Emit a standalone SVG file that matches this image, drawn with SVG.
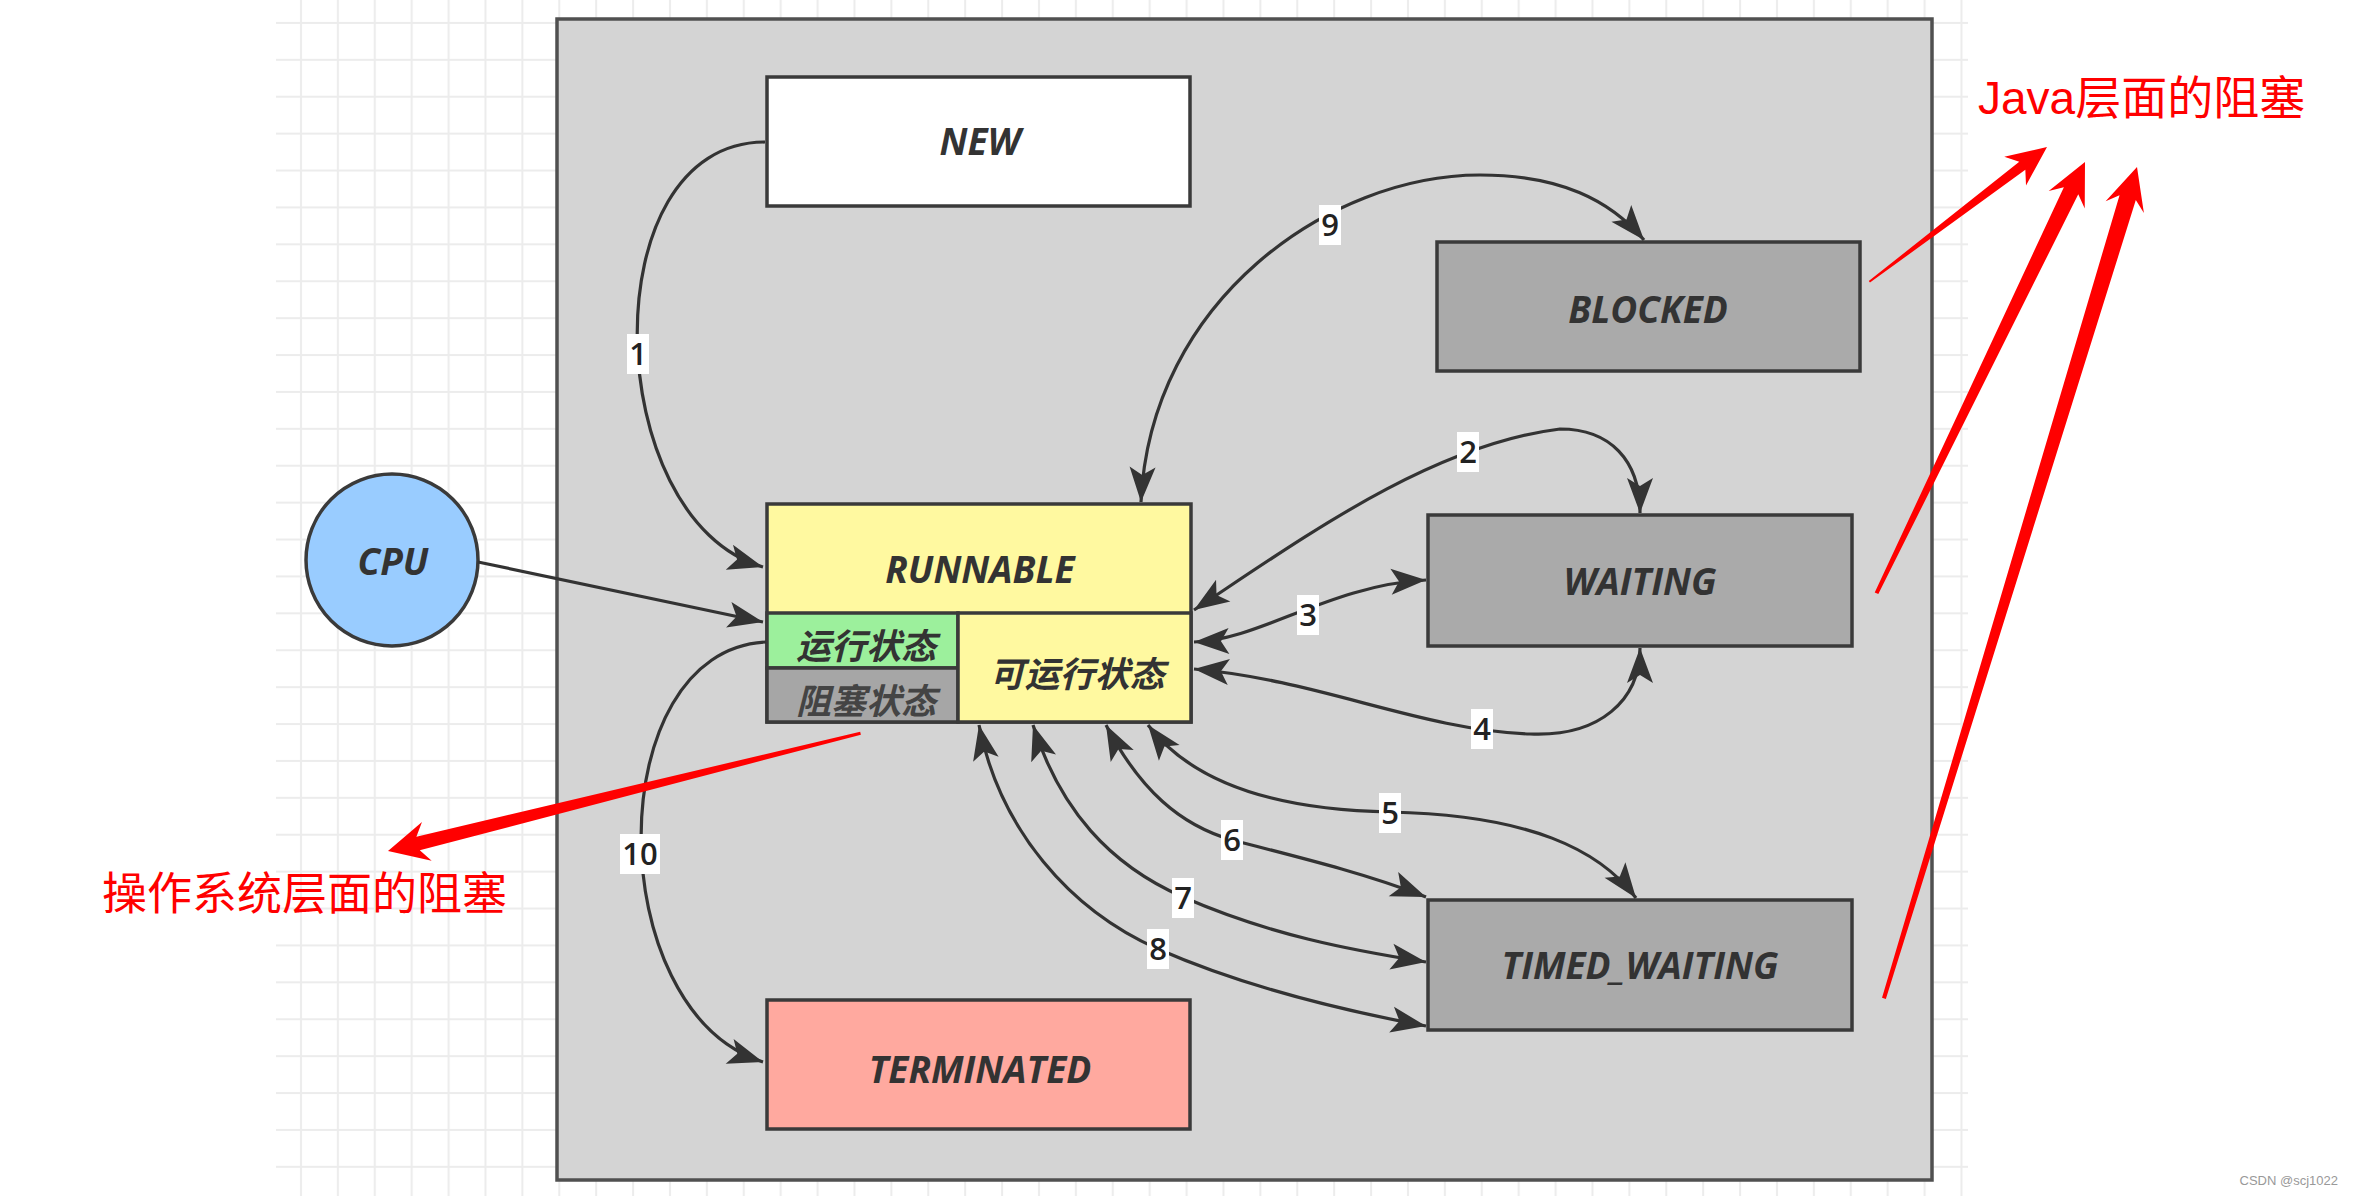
<svg xmlns="http://www.w3.org/2000/svg" width="2354" height="1196" viewBox="0 0 2354 1196">
<style>
.node{stroke:#3a3a3a;stroke-width:3.5}
.lbl{font-family:"Open Sans","Noto Sans CJK SC",sans-serif;font-weight:700;font-style:italic;font-size:37px;fill:#333;text-anchor:middle}
.cjk{font-family:"Noto Sans CJK SC",sans-serif;font-weight:700;font-style:italic;font-size:35px;fill:#333;text-anchor:middle;dominant-baseline:central}
.edge{fill:none;stroke:#333;stroke-width:3.2}
.num{font-family:"Open Sans","Liberation Sans",sans-serif;font-weight:600;font-size:31px;fill:#222;text-anchor:middle}
.red{fill:#ff0000}
.redtxt{font-family:"Liberation Sans","Noto Sans CJK SC",sans-serif;fill:#ff0000}
</style>
<defs>
<pattern id="grid" x="276" y="0" width="36.9" height="36.9" patternUnits="userSpaceOnUse">
<path d="M25 0V36.9M0 23H36.9" stroke="#ececec" stroke-width="2" fill="none"/>
</pattern>
<marker id="ah" markerUnits="userSpaceOnUse" markerWidth="40" markerHeight="30" refX="36" refY="14" orient="auto-start-reverse" viewBox="0 0 40 30">
<path d="M1,1 L36,14 L1,27 L9,14 z" fill="#333"/>
</marker>
</defs>
<rect width="2354" height="1196" fill="#ffffff"/>
<rect x="276" y="0" width="1692" height="1196" fill="url(#grid)"/>
<rect id="container" x="557" y="19" width="1375" height="1161" fill="#d4d4d4" stroke="#505050" stroke-width="3.5"/>

<g id="node-new"><rect class="node" x="767" y="77" width="423" height="129" fill="#ffffff"/><text class="lbl" x="980" y="155">NEW</text></g>
<g id="node-runnable">
<rect class="node" x="767" y="504" width="424" height="218" fill="#fff9a0"/>
<text class="lbl" x="980" y="583">RUNNABLE</text>
<rect class="node" x="767" y="613" width="191" height="55" fill="#9cf09c"/>
<text class="cjk" x="866" y="643">运行状态</text>
<rect class="node" x="767" y="668" width="191" height="54" fill="#a6a6a6"/>
<text class="cjk" x="866" y="698" style="fill:#444">阻塞状态</text>
<rect class="node" x="958" y="613" width="233" height="109" fill="#fff9a0"/>
<text class="cjk" x="1077" y="671">可运行状态</text>
</g>
<g id="node-blocked"><rect class="node" x="1437" y="242" width="423" height="129" fill="#aaaaaa"/><text class="lbl" x="1648" y="323">BLOCKED</text></g>
<g id="node-waiting"><rect class="node" x="1428" y="515" width="424" height="131" fill="#aaaaaa"/><text class="lbl" x="1640" y="595">WAITING</text></g>
<g id="node-timed"><rect class="node" x="1428" y="900" width="424" height="130" fill="#aaaaaa"/><text class="lbl" x="1640" y="979">TIMED_WAITING</text></g>
<g id="node-terminated"><rect class="node" x="767" y="1000" width="423" height="129" fill="#ffa99f"/><text class="lbl" x="980" y="1083">TERMINATED</text></g>
<g id="node-cpu"><circle class="node" cx="392" cy="560" r="86" fill="#99ccff"/><text class="lbl" x="393" y="575">CPU</text></g>

<g id="connectors">
<path class="edge" d="M765,142 C590,142 600,520 763,567" marker-end="url(#ah)"/>
<path class="edge" d="M478,562 L763,622" marker-end="url(#ah)"/>
<path class="edge" d="M766,642 C600,650 600,1010 763,1062" marker-end="url(#ah)"/>
<path class="edge" d="M1141,502 C1150,300 1330,175 1480,175 C1560,175 1610,200 1644,240" marker-start="url(#ah)" marker-end="url(#ah)"/>
<path class="edge" d="M1194,610 C1300,540 1430,445 1560,429 C1610,429 1640,460 1640,513" marker-start="url(#ah)" marker-end="url(#ah)"/>
<path class="edge" d="M1194,642 C1260,640 1330,585 1426,580" marker-start="url(#ah)" marker-end="url(#ah)"/>
<path class="edge" d="M1194,669 C1320,680 1420,730 1530,734 C1600,737 1640,700 1640,648" marker-start="url(#ah)" marker-end="url(#ah)"/>
<path class="edge" d="M1148,725 C1190,780 1270,810 1390,812 C1530,815 1600,850 1636,898" marker-start="url(#ah)" marker-end="url(#ah)"/>
<path class="edge" d="M1106,725 C1140,790 1180,825 1232,840 C1310,860 1370,875 1426,897" marker-start="url(#ah)" marker-end="url(#ah)"/>
<path class="edge" d="M1033,725 C1060,810 1110,865 1183,897 C1270,935 1350,950 1426,962" marker-start="url(#ah)" marker-end="url(#ah)"/>
<path class="edge" d="M979,725 C1000,830 1070,910 1158,949 C1240,985 1340,1010 1426,1026" marker-start="url(#ah)" marker-end="url(#ah)"/>
<g id="edge-labels">
<rect x="627" y="334" width="22" height="40" fill="#fff"/><text class="num" x="638" y="365">1</text>
<rect x="1457" y="432" width="22" height="40" fill="#fff"/><text class="num" x="1468" y="463">2</text>
<rect x="1297" y="595" width="22" height="40" fill="#fff"/><text class="num" x="1308" y="626">3</text>
<rect x="1471" y="709" width="22" height="40" fill="#fff"/><text class="num" x="1482" y="740">4</text>
<rect x="1379" y="793" width="22" height="40" fill="#fff"/><text class="num" x="1390" y="824">5</text>
<rect x="1221" y="820" width="22" height="40" fill="#fff"/><text class="num" x="1232" y="851">6</text>
<rect x="1172" y="878" width="22" height="40" fill="#fff"/><text class="num" x="1183" y="909">7</text>
<rect x="1147" y="929" width="22" height="40" fill="#fff"/><text class="num" x="1158" y="960">8</text>
<rect x="1319" y="205" width="22" height="40" fill="#fff"/><text class="num" x="1330" y="236">9</text>
<rect x="620" y="834" width="40" height="40" fill="#fff"/><text class="num" x="640" y="865">10</text>
</g>
</g>

<g id="annotations">
<polygon class="red" transform="translate(2047,147) rotate(-37.2)" points="-223,-1 -31,-5 -40,-18 0,0 -40,18 -31,5 -223,1"/>
<polygon class="red" transform="translate(2085,162) rotate(-64.2)" points="-479,-2 -32,-8 -42,-20 0,0 -42,20 -32,8 -479,2"/>
<polygon class="red" transform="translate(2137,167) rotate(-73.07)" points="-869,-2 -32,-8.5 -42,-20 0,0 -42,20 -32,8.5 -869,2"/>
<polygon class="red" transform="translate(388,851) rotate(166)" points="-487,-1.5 -31,-7 -40,-20 0,0 -40,20 -31,7 -487,1.5"/>
<text class="redtxt" x="1978" y="114" font-size="46">Java层面的阻塞</text>
<text class="redtxt" x="102" y="910" font-size="45">操作系统层面的阻塞</text>
<text x="2338" y="1185" font-family="Liberation Sans, sans-serif" font-size="13" fill="#999" text-anchor="end">CSDN @scj1022</text>
</g>
</svg>
